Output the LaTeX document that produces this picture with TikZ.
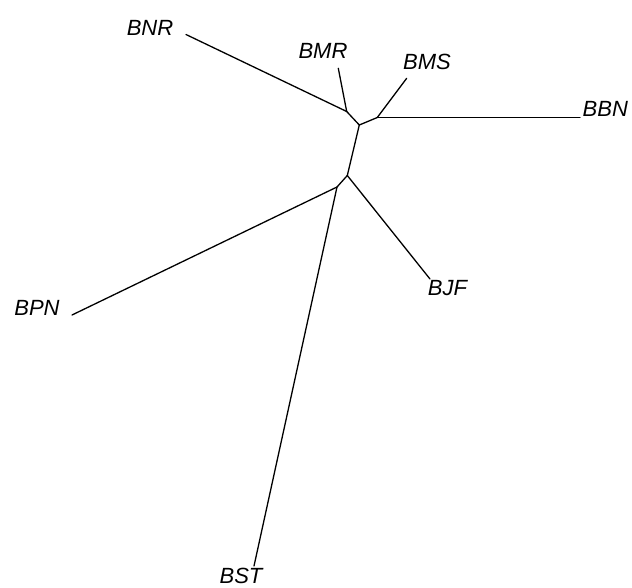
\documentclass[tikz,border=0pt]{standalone}
\usepackage{fontspec}
\setmainfont{Liberation Sans}
\begin{document}
\begin{tikzpicture}[x=1pt,y=-1pt,
  edge/.style={line width=1.3pt,line cap=round},
  lab/.style={font=\fontsize{22}{24}\selectfont\itshape,inner sep=0pt,anchor=base}]
\useasboundingbox (0,0) rectangle (632,587);
% internal nodes
\coordinate (A) at (346.7,111.5);
\coordinate (B) at (359.3,125);
\coordinate (C) at (377.3,117.5);
\coordinate (D) at (347.3,175.5);
\coordinate (E) at (337,187);
% tips
\coordinate (tBNR) at (186,34.5);
\coordinate (tBMR) at (338.3,68.3);
\coordinate (tBMS) at (406.7,78.3);
\coordinate (tBBN) at (580,117.5);
\coordinate (tBJF) at (430,279);
\coordinate (tBPN) at (72,315);
\coordinate (tBST) at (254,566);
% edges
\draw[edge] (tBNR) -- (A);
\draw[edge] (tBMR) -- (A);
\draw[edge] (A) -- (B);
\draw[edge] (B) -- (C);
\draw[edge] (C) -- (tBMS);
\draw[edge] (C) -- (tBBN);
\draw[edge] (B) -- (D);
\draw[edge] (D) -- (tBJF);
\draw[edge] (D) -- (E);
\draw[edge] (E) -- (tBPN);
\draw[edge] (E) -- (tBST);
% labels
\node[lab] (BNR) at (150,35) {BNR};
\node[lab] (BMR) at (323,58) {BMR};
\node[lab] (BMS) at (427,69) {BMS};
\node[lab] (BBN) at (605.3,116.7) {BBN};
\node[lab] (BJF) at (447.5,295) {BJF};
\node[lab] (BPN) at (37,315) {BPN};
\node[lab] (BST) at (241,583.3) {BST};
\end{tikzpicture}
\end{document}
